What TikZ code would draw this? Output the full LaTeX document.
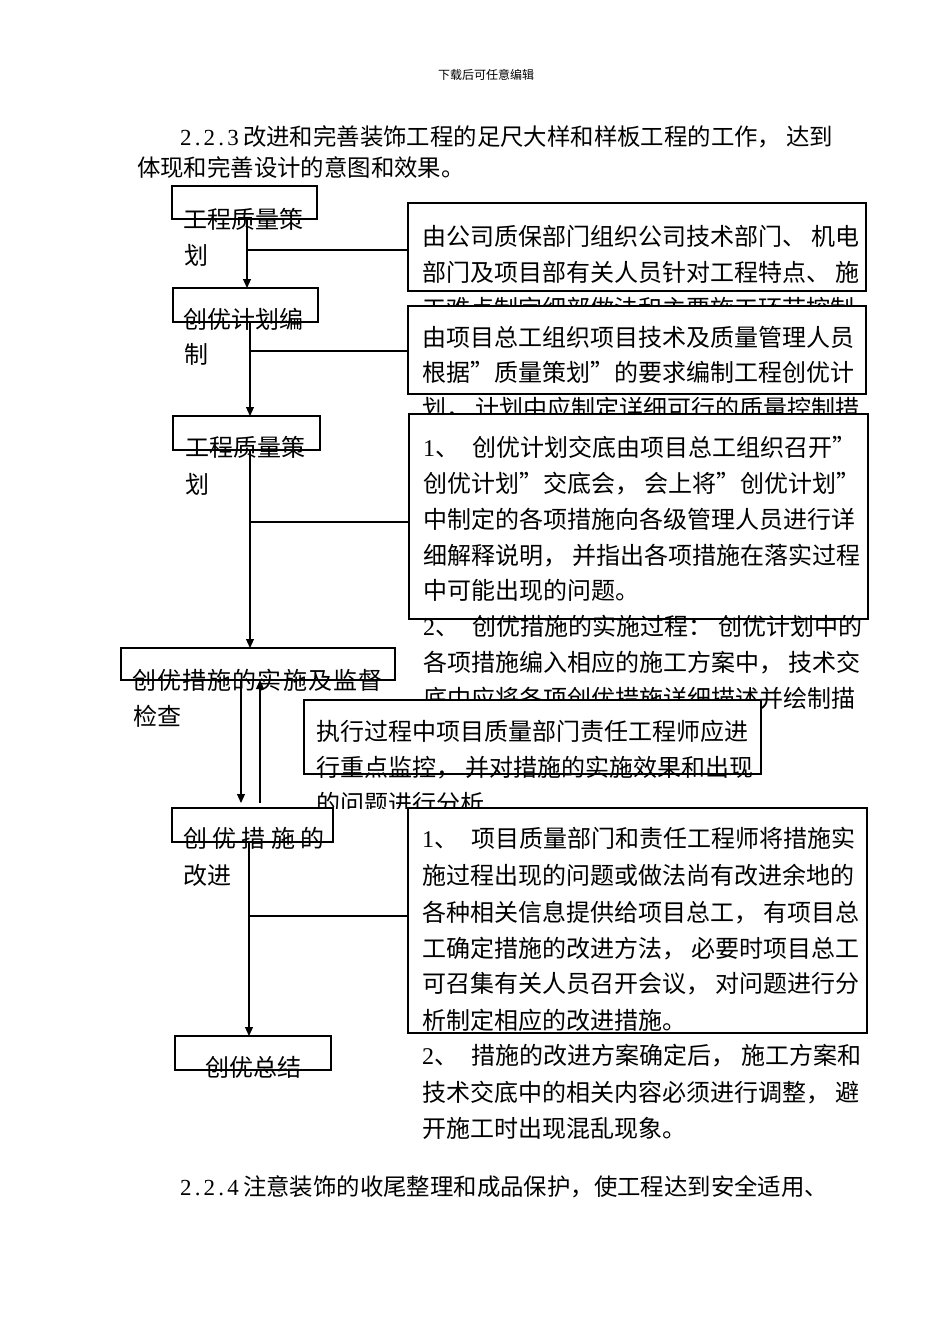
\documentclass[tikz,border=0pt]{standalone}
\usepackage{fontspec}
\setmainfont{Noto Sans CJK SC}
\newfontfamily\seriffam{Liberation Serif}
\usetikzlibrary{arrows.meta}
\tikzset{
  rbox/.style={draw=black, line width=1.1pt, fill=white, inner sep=0pt, outer sep=0pt, anchor=north west},
  lbox/.style={draw=black, line width=1.1pt, inner sep=0pt, outer sep=0pt, anchor=north west},
  txt/.style={anchor=base west, inner sep=0pt, outer sep=0pt, font=\fontsize{24}{24}\selectfont},
  htxt/.style={anchor=base west, inner sep=0pt, outer sep=0pt, font=\fontsize{23.4}{23.4}\selectfont},
  con/.style={line width=1.1pt},
  arr/.style={line width=1.1pt, -{Triangle[length=9pt,width=8pt]}},
}
\newcommand\numgap{\hspace{14pt}}
\newcommand\dg[1]{\makebox[12pt][l]{\seriffam\fontsize{24}{24}\selectfont #1}}
\newcommand\mc[1]{\makebox[11.8pt]{\seriffam\fontsize{23}{23}\selectfont #1}}
\newcommand\ks{\kern1.2pt}
\begin{document}
\begin{tikzpicture}[x=1pt, y=-1pt]
\fill[white] (0,0) rectangle (950,1344);
\useasboundingbox (0,0) rectangle (950,1344);

% header
\node[anchor=base, inner sep=0pt, font=\fontsize{12}{12}\selectfont] (hdr) at (486,79.5) {下载后可任意编辑};
\node[htxt] (h1) at (180,145.5) {\mc{2}\mc{.}\mc{2}\mc{.}\mc{3}\hspace{4pt}改进和完善装饰工程的足尺大样和样板工程的工作， 达到};
\node[htxt] (h2) at (137,176.5) {体现和完善设计的意图和效果。};

% left boxes
\node[lbox, minimum width=145pt, minimum height=33pt] (A) at (172,186) {};
\node[txt] (a1) at (183,228) {工程质量策};
\node[txt] (a2) at (184,264) {划};
\node[lbox, minimum width=145pt, minimum height=34pt] (B) at (173,288) {};
\node[txt] (b1) at (183,328) {创优计划编};
\node[txt] (b2) at (184,363) {制};
\node[lbox, minimum width=147pt, minimum height=34pt] (C) at (173,416) {};
\node[txt] (c1) at (185,456) {工程质量策};
\node[txt] (c2) at (185,493) {划};
\node[lbox, minimum width=274pt, minimum height=32pt] (D) at (121,648) {};
\node[txt] (d1) at (132,689) {创\ks 优\ks 措\ks 施\ks 的\ks 实\ks 施\ks 及\ks 监\ks 督};
\node[txt] (d2) at (133,725) {检查};
\node[lbox, minimum width=161pt, minimum height=34pt] (E) at (172,808) {};
\node[txt] (e1) at (183,847) {创 优 措 施 的};
\node[txt] (e2) at (183,884) {改进};
\node[lbox, minimum width=156pt, minimum height=34pt] (F) at (175,1036) {};
\node[txt, anchor=base] (f1) at (253,1076) {创优总结};

% right boxes
\node[rbox, minimum width=458pt, minimum height=88pt] (R1) at (408,203) {};
\node[txt] (r1a) at (422,245) {由公司质保部门组织公司技术部门、 机电};
\node[txt] (r1b) at (422,281) {部门及项目部有关人员针对工程特点、 施};
\node[txt] (r1c) at (422,317) {工难点制定细部做法和主要施工环节控制};

\node[rbox, minimum width=458pt, minimum height=88pt] (R2) at (408,306) {};
\node[txt] (r2a) at (422,346) {由项目总工组织项目技术及质量管理人员};
\node[txt] (r2b) at (422,381) {根据”质量策划”的要求编制工程创优计};
\node[txt] (r2c) at (422,417) {划， 计划中应制定详细可行的质量控制措};

\node[rbox, minimum width=459pt, minimum height=205pt] (R3) at (409,414) {};
\node[txt] (r3a) at (423,456) {\dg{1}、\numgap 创优计划交底由项目总工组织召开”};
\node[txt] (r3b) at (423,492) {创优计划”交底会， 会上将”创优计划”};
\node[txt] (r3c) at (423,528) {中制定的各项措施向各级管理人员进行详};
\node[txt] (r3d) at (423,564) {细解释说明， 并指出各项措施在落实过程};
\node[txt] (r3e) at (423,599) {中可能出现的问题。};
\node[txt] (r3f) at (423,635) {\dg{2}、\numgap 创优措施的实施过程： 创优计划中的};
\node[txt] (r3g) at (423,671) {各项措施编入相应的施工方案中， 技术交};
\node[txt] (r3h) at (423,707) {底中应将各项创优措施详细描述并绘制描};

\node[rbox, minimum width=457pt, minimum height=74pt] (R4) at (304,700) {};
\node[txt] (r4a) at (316,740) {执行过程中项目质量部门责任工程师应进};
\node[txt] (r4b) at (316,776) {行重点监控， 并对措施的实施效果和出现};
\begin{scope}
\clip (300,770) rectangle (780,808);
\node[txt] (r4c) at (316,812) {的问题进行分析};
\end{scope}

\node[rbox, minimum width=459pt, minimum height=225pt] (R5) at (408,808) {};
\node[txt] (r5a) at (422,847) {\dg{1}、\numgap 项目质量部门和责任工程师将措施实};
\node[txt] (r5b) at (422,884) {施过程出现的问题或做法尚有改进余地的};
\node[txt] (r5c) at (422,921) {各种相关信息提供给项目总工， 有项目总};
\node[txt] (r5d) at (422,957) {工确定措施的改进方法， 必要时项目总工};
\node[txt] (r5e) at (422,992) {可召集有关人员召开会议， 对问题进行分};
\node[txt] (r5f) at (422,1029) {析制定相应的改进措施。};
\node[txt] (r5g) at (422,1064) {\dg{2}、\numgap 措施的改进方案确定后， 施工方案和};
\node[txt] (r5h) at (422,1101) {技术交底中的相关内容必须进行调整， 避};
\node[txt] (r5i) at (422,1137) {开施工时出现混乱现象。};

\node[htxt] (h3) at (180,1195.5) {\mc{2}\mc{.}\mc{2}\mc{.}\mc{4}\hspace{4pt}注意装饰的收尾整理和成品保护，使工程达到安全适用、};

% connectors
\coordinate (xa) at (247,0);
\coordinate (xb) at (250,0);
\coordinate (xd1) at (241,0);
\coordinate (xd2) at (260,0);
\coordinate (xe) at (249,0);
\coordinate (ja) at (247,250);
\coordinate (jb) at (250,351);
\coordinate (jc) at (250,522);
\coordinate (je) at (249,916);
\coordinate (Etop) at ([yshift=5pt]E.north);

\draw[arr] (A.south -| xa) -- (B.north -| xa);
\draw[con] (ja) -- (ja -| R1.west);
\draw[arr] (B.south -| xb) -- (C.north -| xb);
\draw[con] (jb) -- (jb -| R2.west);
\draw[arr] (C.south -| xb) -- (D.north -| xb);
\draw[con] (jc) -- (jc -| R3.west);
\draw[arr] (D.south -| xd1) -- (Etop -| xd1);
\draw[arr] (Etop -| xd2) -- (D.south -| xd2);
\draw[arr] (E.south -| xe) -- (F.north -| xe);
\draw[con] (je) -- (je -| R5.west);
\end{tikzpicture}
\end{document}
